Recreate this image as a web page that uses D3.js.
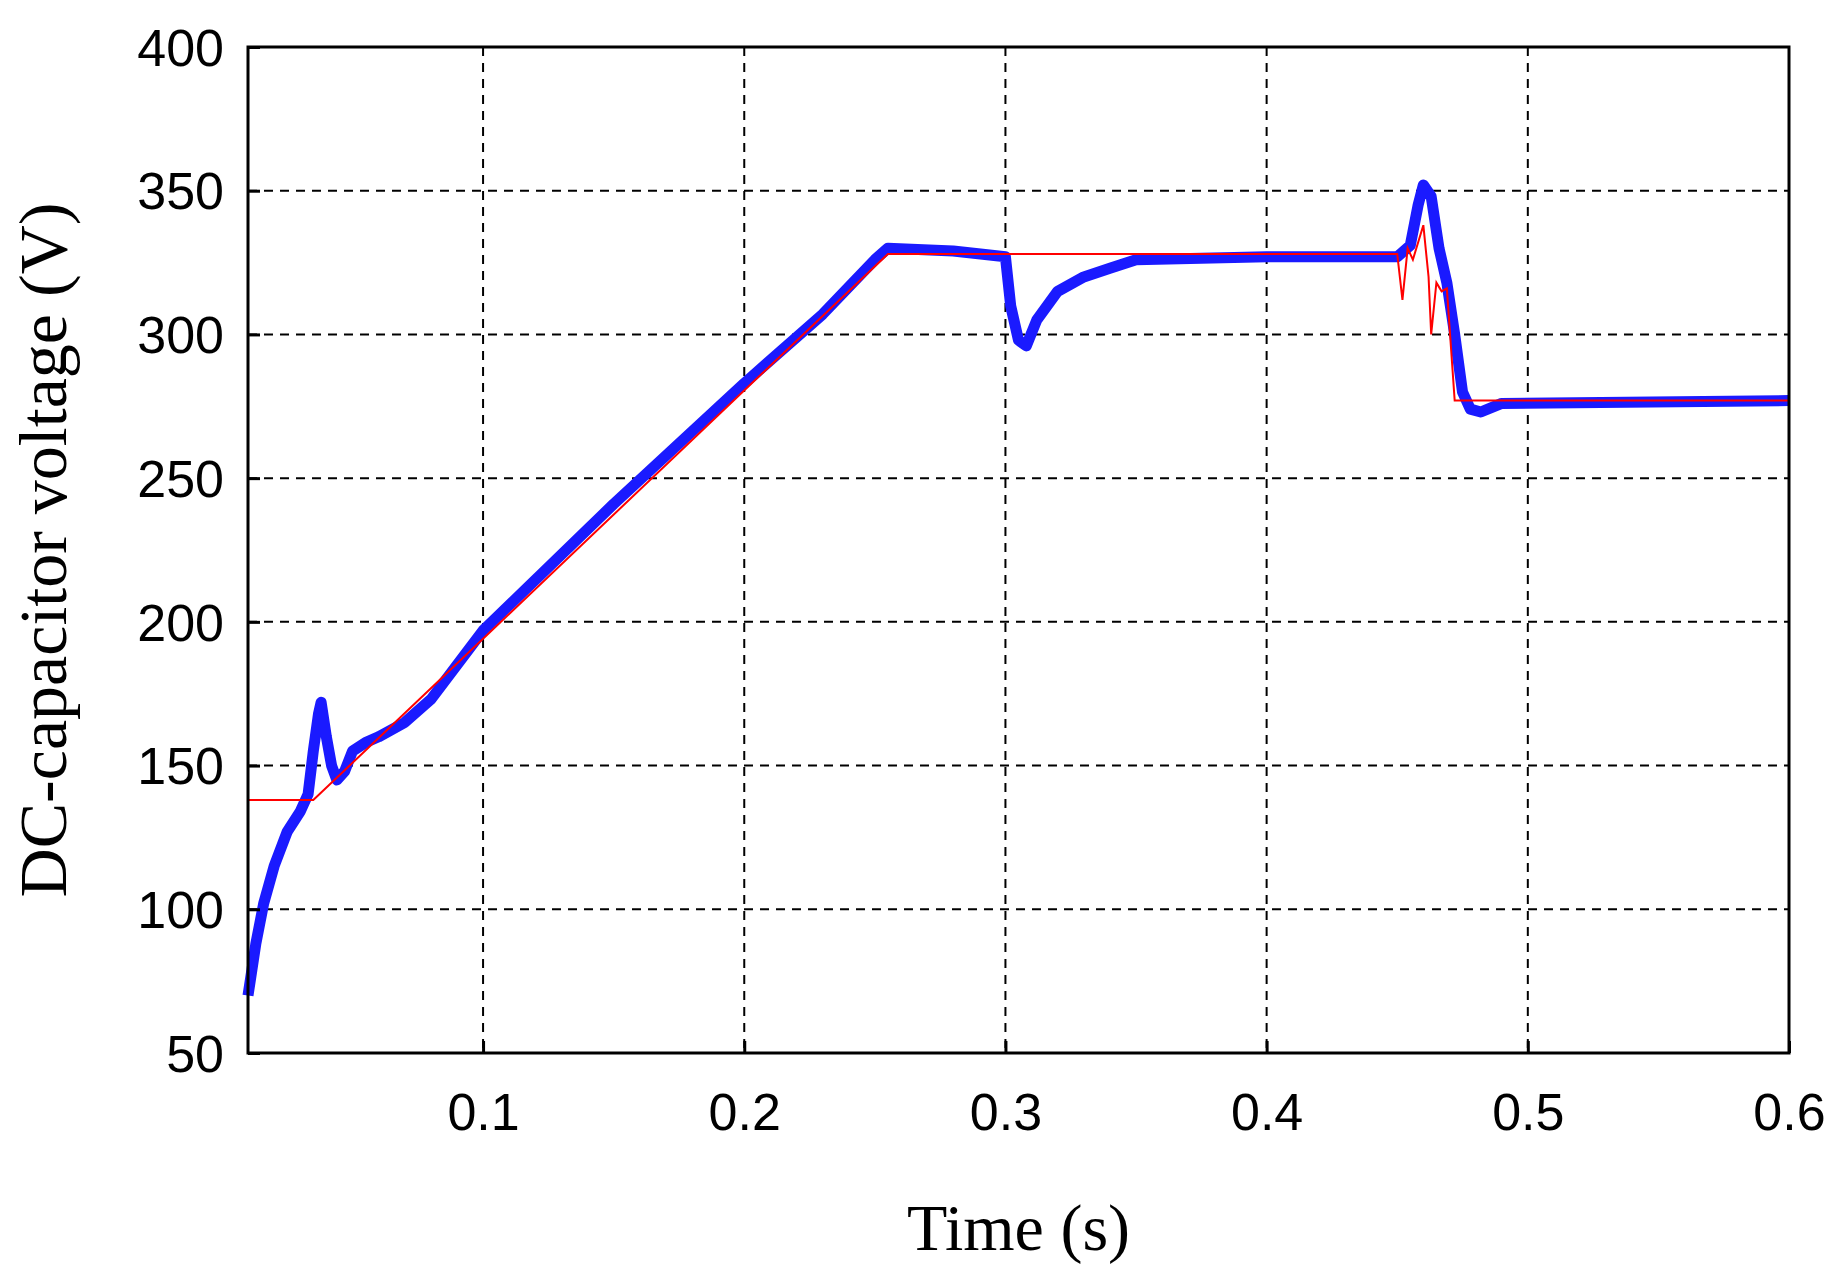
<!DOCTYPE html>
<html>
<head>
<meta charset="utf-8">
<script src="https://cdn.jsdelivr.net/npm/d3@7"></script>
<style>
  body { margin: 0; background: #fff; }
</style>
</head>
<body>
<div id="chart"></div>
<script>
// measured (blue) and reference (red) DC-capacitor voltage
const blueT = [0.010, 0.013, 0.016, 0.020, 0.025, 0.030, 0.033, 0.035, 0.037, 0.038, 0.040, 0.042, 0.044, 0.047, 0.050, 0.055, 0.060, 0.070, 0.080, 0.090, 0.100, 0.150, 0.200, 0.230, 0.250, 0.255, 0.280, 0.300, 0.302, 0.305, 0.308, 0.312, 0.320, 0.330, 0.340, 0.350, 0.400, 0.450, 0.455, 0.458, 0.460, 0.463, 0.466, 0.469, 0.472, 0.475, 0.478, 0.482, 0.490, 0.600];
const blueV = [70, 88, 102, 115, 127, 134, 140, 155, 168, 172, 160, 150, 145, 148, 155, 158, 160, 165, 173, 185, 197, 241, 283, 307, 326, 330, 329, 327, 310, 298, 296, 305, 315, 320, 323, 326, 327, 327, 331, 345, 352, 348, 330, 318, 300, 280, 274, 273, 276, 277];
const redT = [0.010, 0.035, 0.255, 0.450, 0.452, 0.454, 0.456, 0.460, 0.462, 0.463, 0.465, 0.467, 0.469, 0.472, 0.600];
const redV = [138, 138, 328, 328, 312, 330, 326, 338, 320, 300, 318, 315, 316, 277, 277];
const xTicks = [0.1, 0.2, 0.3, 0.4, 0.5, 0.6];
const yTicks = [50, 100, 150, 200, 250, 300, 350, 400];

const width = 1848, height = 1281;
const margin = { left: 248, right: 59, top: 47, bottom: 228 };

const svg = d3.select('#chart').append('svg')
  .attr('width', width)
  .attr('height', height);

const x = d3.scaleLinear().domain([0.01, 0.6]).range([margin.left, width - margin.right]);
const y = d3.scaleLinear().domain([50, 400]).range([height - margin.bottom, margin.top]);

// grid
svg.append('g').selectAll('line').data(xTicks.slice(0, -1)).join('line')
  .attr('x1', d => x(d)).attr('x2', d => x(d))
  .attr('y1', y(400)).attr('y2', y(50))
  .attr('stroke', '#000').attr('stroke-width', 2).attr('stroke-dasharray', '9,7');
svg.append('g').selectAll('line').data(yTicks.slice(1, -1)).join('line')
  .attr('x1', x(0.01)).attr('x2', x(0.6))
  .attr('y1', d => y(d)).attr('y2', d => y(d))
  .attr('stroke', '#000').attr('stroke-width', 2).attr('stroke-dasharray', '9,7');

// lines
const line = d3.line().x(d => x(d[0])).y(d => y(d[1]));
svg.append('path')
  .attr('d', line(d3.zip(blueT, blueV)))
  .attr('fill', 'none').attr('stroke', '#1a1aff').attr('stroke-width', 11)
  .attr('stroke-linejoin', 'round');
svg.append('path')
  .attr('d', line(d3.zip(redT, redV)))
  .attr('fill', 'none').attr('stroke', '#ff0000').attr('stroke-width', 2);

// frame
svg.append('rect')
  .attr('x', x(0.01)).attr('y', y(400))
  .attr('width', x(0.6) - x(0.01)).attr('height', y(50) - y(400))
  .attr('fill', 'none').attr('stroke', '#000').attr('stroke-width', 3);

// axes
const xAxis = svg.append('g')
  .attr('transform', `translate(0,${y(50)})`)
  .call(d3.axisBottom(x).tickValues(xTicks).tickSize(12).tickFormat(d3.format('.1f')));
const yAxis = svg.append('g')
  .attr('transform', `translate(${x(0.01)},0)`)
  .call(d3.axisLeft(y).tickValues(yTicks).tickSize(-12));
[xAxis, yAxis].forEach(a => {
  a.select('.domain').remove();
  a.selectAll('line').attr('stroke-width', 3);
  a.selectAll('text').attr('font-family', 'Liberation Sans, Arial, sans-serif')
    .attr('font-size', 52).attr('fill', '#000');
});
xAxis.selectAll('line').attr('y2', -12);
xAxis.selectAll('text').attr('dy', '1.2em');
yAxis.selectAll('text').attr('x', -24).attr('dy', '0.35em');

svg.append('text')
  .attr('x', (x(0.01) + x(0.6)) / 2).attr('y', 1250)
  .attr('text-anchor', 'middle')
  .attr('font-family', 'Liberation Serif, Times New Roman, serif')
  .attr('font-size', 66)
  .text('Time (s)');
svg.append('text')
  .attr('transform', `translate(66,${(y(50) + y(400)) / 2}) rotate(-90)`)
  .attr('text-anchor', 'middle')
  .attr('font-family', 'Liberation Serif, Times New Roman, serif')
  .attr('font-size', 68)
  .text('DC-capacitor voltage (V)');
</script>
</body>
</html>
